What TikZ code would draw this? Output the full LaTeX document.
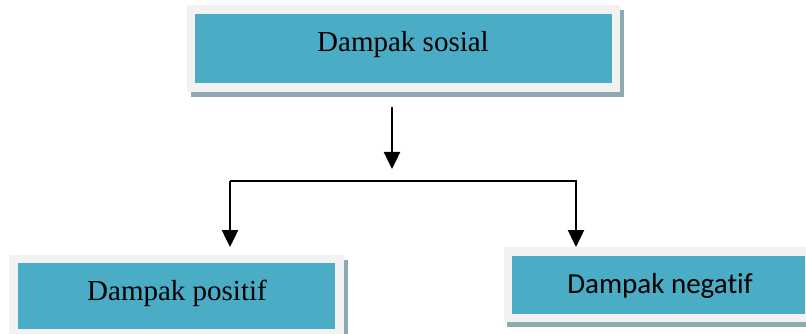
\documentclass[tikz,border=0pt]{standalone}
\usepackage{fontspec}
\setmainfont{Liberation Serif}
\newfontfamily\calib[Ligatures=NoCommon]{Carlito}
\usetikzlibrary{arrows.meta}
\definecolor{boxblue}{HTML}{4BACC6}
\definecolor{boxframe}{HTML}{F2F2F2}
\definecolor{boxshadow}{HTML}{8FA9B3}
\tikzset{
  box/.style={rectangle, fill=boxblue, draw=boxframe, line width=8.5pt, inner sep=0pt},
  shadowbox/.style={fill=boxshadow},
  lbl/.style={anchor=base, inner sep=0pt, font=\fontsize{29}{34}\selectfont},
  conn/.style={line width=2.5pt, -{Triangle[width=16pt,length=17pt]}},
  bar/.style={line width=2pt}
}
\begin{document}
\begin{tikzpicture}[x=1pt,y=-1pt]
\clip (0,0) rectangle (806,334);
\fill[white] (0,0) rectangle (806,334);
% shadows
\fill[shadowbox] (191,10) rectangle (624,97);
\fill[shadowbox] (14,260) rectangle (348,340);
\fill[shadowbox] (507,252) rectangle (816,327);
% boxes
\node[box, minimum width=425pt, minimum height=78pt] (top) at (403.5,48.5) {};
\node[box, minimum width=326pt, minimum height=74pt] (pos) at (176.5,296) {};
\node[box, minimum width=301pt, minimum height=66.5pt] (neg) at (658.5,284.75) {};
% labels
\node[lbl] (ttop) at (403,52) {Dampak sosial};
\node[lbl] (tpos) at (177,300) {Dampak positif};
\node[lbl, font=\calib\fontsize{29}{34}\selectfont] (tneg) at (660,293) {Dampak negatif};
% connectors
\coordinate (a0) at (392,107);
\coordinate (a1) at (392,169);
\coordinate (hl) at (230,181);
\coordinate (hr) at (577,181);
\coordinate (rl) at (576,181);
\coordinate (bl) at (230,247);
\coordinate (br) at (576,247);
\draw[conn] (a0) -- (a1);
\draw[bar] (hl) -- (hr);
\draw[conn] (hl) -- (bl);
\draw[conn] (rl) -- (br);
\end{tikzpicture}
\end{document}
